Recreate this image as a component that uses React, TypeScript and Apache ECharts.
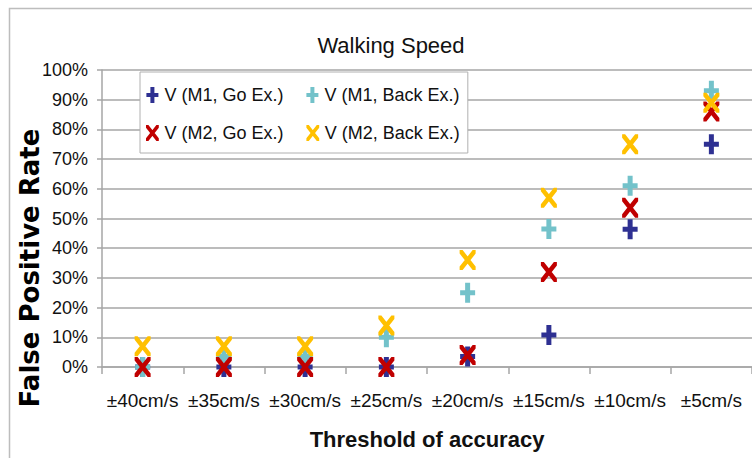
import React, { useEffect, useRef } from "react";
import * as echarts from "echarts";

const categories = ["±40cm/s", "±35cm/s", "±30cm/s", "±25cm/s", "±20cm/s", "±15cm/s", "±10cm/s", "±5cm/s"];
const m1Go = [0, 0, 0, 0, 3.5, 10.8, 46.4, 75];
const m1Back = [0, 3.5, 3.5, 10, 25, 46.5, 61, 93];
const m2Go = [0, 0, 0, 0, 4, 32, 53.6, 86];
const m2Back = [7, 7, 7, 14, 36, 57, 75, 89];
const seriesNames = ["V (M1, Go Ex.)", "V (M1, Back Ex.)", "V (M2, Go Ex.)", "V (M2, Back Ex.)"];
const colors = ["#2E3092", "#73C2CA", "#C00000", "#FFC000"];

const PLUS = "path://M5,0 H10 V7.5 H15 V12.5 H10 V20 H5 V12.5 H0 V7.5 H5 Z";
const CROSS = "path://M0,0 L3,0 L16,16.5 L16,20 L13,20 L0,3.5 Z M13,0 L16,0 L16,3.5 L3,20 L0,20 L0,16.5 Z";

const FONT = "'Liberation Sans', Arial, sans-serif";

export default function App() {
  const ref = useRef<HTMLDivElement>(null);
  useEffect(() => {
    if (!ref.current) return;
    const chart = echarts.init(ref.current, null, { renderer: "svg" });
    const datasets = [m1Go, m1Back, m2Go, m2Back];
    const symbols = [PLUS, PLUS, CROSS, CROSS];
    const sizes: [number, number][] = [[15, 20], [15, 20], [16, 20], [16, 20]];
    chart.setOption({
      animation: false,
      backgroundColor: "#ffffff",
      title: {
        text: "Walking Speed",
        left: 386,
        top: 29,
        textAlign: "center",
        textStyle: { fontFamily: FONT, fontSize: 22, fontWeight: "normal", color: "#111" },
      },
      legend: {
        left: 140,
        top: 72,
        width: 340,
        padding: [11, 8, 8, 6],
        itemWidth: 14,
        itemHeight: 16,
        itemGap: 14,
        backgroundColor: "#ffffff",
        borderColor: "#b0b0b0",
        borderWidth: 1,
        data: seriesNames.map((n, i) => ({ name: n, icon: symbols[i] })),
        textStyle: { fontFamily: FONT, fontSize: 18, color: "#111", width: 128, lineHeight: 24 },
      },
      grid: { left: 102, right: 0, top: 70, bottom: 91, containLabel: false },
      xAxis: {
        type: "category",
        data: categories,
        boundaryGap: true,
        axisLine: { show: true, lineStyle: { color: "#a6a6a6", width: 1.5 } },
        axisTick: { show: true, length: 7, lineStyle: { color: "#a6a6a6", width: 1.5 } },
        axisLabel: { interval: 0, fontFamily: FONT, fontSize: 19, color: "#111", margin: 24 },
        splitLine: { show: false },
        name: "Threshold of accuracy",
        nameLocation: "middle",
        nameGap: 61,
        nameTextStyle: { fontFamily: FONT, fontSize: 22, fontWeight: "bold", color: "#111" },
      },
      yAxis: {
        type: "value",
        min: 0,
        max: 100,
        interval: 10,
        axisLine: { show: true, lineStyle: { color: "#a6a6a6", width: 1.5 } },
        axisTick: { show: true, length: 5, lineStyle: { color: "#a6a6a6", width: 1.5 } },
        axisLabel: { formatter: "{value}%", fontFamily: FONT, fontSize: 18, color: "#111", margin: 14 },
        splitLine: { show: true, lineStyle: { color: "#a6a6a6", width: 1.5 } },
      },
      graphic: [
        {
          type: "rect",
          silent: true,
          z: -10,
          shape: { x: 9.5, y: 8.5, width: 800, height: 500 },
          style: { fill: "none", stroke: "#bdbdbd", lineWidth: 1.5 },
        },
        {
          type: "text",
          x: 30,
          y: 268,
          rotation: Math.PI / 2,
          style: {
            text: "False Positive Rate",
            fontFamily: "'DejaVu Sans', sans-serif",
            fontWeight: "bold",
            fontSize: 26,
            fill: "#000",
            align: "center",
            verticalAlign: "middle",
          },
        },
      ],
      series: seriesNames.map((n, i) => ({
        name: n,
        type: "scatter",
        data: datasets[i],
        symbol: symbols[i],
        symbolSize: sizes[i],
        itemStyle: { color: colors[i], opacity: 1 },
        z: 2 + i,
      })),
    });
    return () => chart.dispose();
  }, []);
  return <div ref={ref} style={{ position: "absolute", left: 0, top: 0, width: 752, height: 458 }} />;
}
